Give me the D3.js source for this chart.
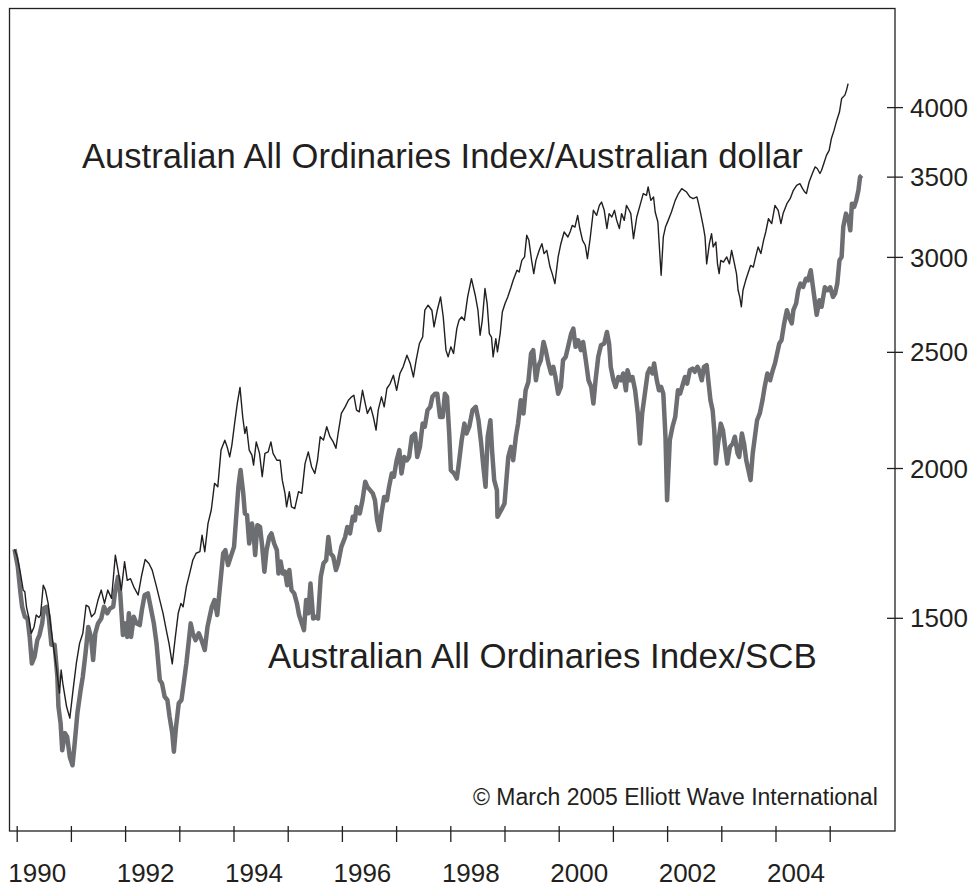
<!DOCTYPE html>
<html lang="en">
<head>
<meta charset="UTF-8">
<script src="https://d3js.org/d3.v7.min.js"></script>
<style>
  body { margin: 0; background: #fff; }
  svg { display: block; font-family: "Liberation Sans", Arial, Helvetica, sans-serif; }
  .axis text { fill: #231f20; font-size: 26px; }
  .axis line { stroke: #231f20; stroke-width: 1.3; }
  .note { fill: #231f20; }
</style>
</head>
<body>
<svg id="chart" width="977" height="888"></svg>
<script>
// All Ordinaries / Australian dollar  [decimal year, value]
const audSeries = [
  [1989.96,1711],[1990.01,1687],[1990.07,1633],[1990.12,1582],[1990.15,1577],[1990.18,1532],[1990.22,1503],[1990.27,1456],[1990.32,1474],[1990.36,1508],
  [1990.41,1501],[1990.44,1508],[1990.49,1597],[1990.53,1582],[1990.58,1542],[1990.63,1474],[1990.67,1428],[1990.73,1366],[1990.76,1331],[1990.79,1298],
  [1990.82,1357],[1990.85,1323],[1990.92,1265],[1990.98,1237],[1991.04,1306],[1991.10,1374],[1991.16,1428],[1991.22,1456],[1991.28,1537],[1991.33,1532],
  [1991.38,1503],[1991.44,1513],[1991.50,1552],[1991.56,1582],[1991.62,1542],[1991.68,1582],[1991.75,1557],[1991.82,1692],[1991.88,1633],[1991.93,1582],
  [1991.99,1671],[1992.04,1612],[1992.10,1617],[1992.16,1592],[1992.24,1567],[1992.30,1623],[1992.37,1678],[1992.44,1665],[1992.50,1644],[1992.58,1592],
  [1992.64,1552],[1992.70,1513],[1992.76,1465],[1992.81,1428],[1992.87,1373],[1992.92,1437],[1992.98,1513],[1993.03,1542],[1993.07,1532],[1993.13,1592],
  [1993.19,1633],[1993.25,1676],[1993.31,1698],[1993.38,1703],[1993.42,1758],[1993.47,1703],[1993.53,1798],[1993.59,1845],[1993.65,1942],[1993.71,1929],
  [1993.77,2070],[1993.84,2110],[1993.89,2077],[1993.93,2043],[1993.97,2090],[1994.02,2178],[1994.07,2264],[1994.12,2335],[1994.17,2206],[1994.21,2137],
  [1994.24,2165],[1994.29,2070],[1994.34,2050],[1994.37,2011],[1994.42,2103],[1994.48,2057],[1994.53,1967],[1994.58,2057],[1994.64,2063],[1994.69,2103],
  [1994.73,2057],[1994.80,2030],[1994.86,2030],[1994.90,1954],[1994.95,1905],[1994.98,1856],[1995.03,1911],[1995.07,1856],[1995.13,1850],[1995.20,1911],
  [1995.26,1905],[1995.32,2017],[1995.38,2063],[1995.44,2005],[1995.50,1979],[1995.55,2030],[1995.60,2124],[1995.66,2110],[1995.72,2165],[1995.78,2124],
  [1995.84,2103],[1995.89,2077],[1995.93,2137],[1995.99,2221],[1996.06,2249],[1996.12,2278],[1996.18,2293],[1996.22,2300],[1996.27,2235],[1996.32,2228],
  [1996.38,2322],[1996.43,2264],[1996.47,2221],[1996.53,2249],[1996.58,2206],[1996.63,2151],[1996.67,2235],[1996.73,2293],[1996.78,2249],[1996.83,2330],
  [1996.89,2352],[1996.95,2390],[1997.01,2322],[1997.07,2398],[1997.13,2429],[1997.20,2484],[1997.26,2445],[1997.32,2382],[1997.37,2460],[1997.43,2540],
  [1997.49,2572],[1997.53,2708],[1997.59,2734],[1997.66,2708],[1997.70,2623],[1997.76,2708],[1997.82,2778],[1997.87,2673],[1997.92,2508],[1997.96,2476],
  [1998.01,2524],[1998.06,2492],[1998.12,2614],[1998.16,2656],[1998.21,2673],[1998.26,2656],[1998.32,2778],[1998.39,2877],[1998.46,2787],[1998.51,2708],
  [1998.55,2581],[1998.59,2656],[1998.64,2823],[1998.68,2743],[1998.72,2589],[1998.76,2572],[1998.79,2476],[1998.84,2564],[1998.87,2500],[1998.92,2589],
  [1998.96,2699],[1999.01,2743],[1999.06,2778],[1999.12,2830],[1999.16,2868],[1999.23,2924],[1999.27,2914],[1999.32,2980],[1999.37,3000],[1999.41,3127],
  [1999.45,3097],[1999.50,2980],[1999.54,2905],[1999.58,2980],[1999.64,3038],[1999.69,3077],[1999.73,3019],[1999.78,3038],[1999.84,2942],[1999.88,2905],
  [1999.93,2850],[1999.99,3000],[2000.04,3077],[2000.10,3147],[2000.17,3117],[2000.21,3147],[2000.25,3187],[2000.30,3177],[2000.35,3249],[2000.39,3168],
  [2000.44,3097],[2000.49,3068],[2000.53,2990],[2000.58,3107],[2000.64,3281],[2000.70,3249],[2000.75,3312],[2000.79,3333],[2000.84,3281],[2000.89,3168],
  [2000.93,3260],[2000.98,3239],[2001.03,3281],[2001.07,3218],[2001.12,3168],[2001.16,3260],[2001.21,3218],[2001.25,3312],[2001.30,3281],[2001.33,3260],
  [2001.38,3107],[2001.44,3239],[2001.50,3312],[2001.56,3388],[2001.62,3377],[2001.65,3431],[2001.70,3344],[2001.75,3366],[2001.78,3270],[2001.83,3208],
  [2001.85,3097],[2001.89,2896],[2001.93,3117],[2001.97,3177],[2002.02,3218],[2002.08,3270],[2002.15,3344],[2002.21,3388],[2002.27,3420],[2002.36,3398],
  [2002.42,3366],[2002.48,3355],[2002.55,3366],[2002.58,3323],[2002.62,3260],[2002.67,3177],[2002.70,3117],[2002.73,2960],[2002.78,3077],[2002.82,3137],
  [2002.85,3058],[2002.90,3087],[2002.93,2960],[2002.96,2905],[2002.99,2980],[2003.04,2970],[2003.10,3000],[2003.15,2960],[2003.19,3038],[2003.23,2980],
  [2003.28,2905],[2003.31,2814],[2003.34,2778],[2003.37,2726],[2003.40,2814],[2003.45,2868],[2003.50,2914],[2003.54,2951],[2003.59,2942],[2003.64,3009],
  [2003.68,3058],[2003.73,3019],[2003.78,3097],[2003.82,3147],[2003.87,3228],[2003.93,3198],[2003.99,3312],[2004.05,3281],[2004.10,3198],[2004.14,3260],
  [2004.21,3323],[2004.27,3355],[2004.33,3409],[2004.39,3442],[2004.45,3453],[2004.50,3420],[2004.54,3398],[2004.57,3388],[2004.62,3464],[2004.68,3521],
  [2004.73,3566],[2004.77,3555],[2004.82,3521],[2004.85,3543],[2004.89,3588],[2004.94,3646],[2004.99,3681],[2005.03,3764],[2005.08,3825],[2005.13,3899],
  [2005.18,3962],[2005.22,4066],[2005.28,4093],[2005.31,4132],[2005.34,4185]
];

// All Ordinaries / SCB  [decimal year, value]
const scbSeries = [
  [1989.96,1711],[1990.02,1655],[1990.07,1572],[1990.10,1532],[1990.15,1503],[1990.20,1498],[1990.24,1446],[1990.28,1374],[1990.33,1392],[1990.38,1437],
  [1990.42,1451],[1990.47,1484],[1990.50,1527],[1990.55,1532],[1990.59,1503],[1990.64,1424],[1990.70,1424],[1990.75,1340],[1990.77,1265],[1990.81,1225],
  [1990.84,1163],[1990.89,1202],[1990.93,1194],[1990.98,1148],[1991.03,1130],[1991.07,1179],[1991.12,1249],[1991.18,1306],[1991.22,1340],[1991.27,1401],
  [1991.32,1474],[1991.37,1446],[1991.41,1383],[1991.45,1456],[1991.50,1484],[1991.56,1498],[1991.61,1532],[1991.67,1513],[1991.72,1527],[1991.78,1532],
  [1991.82,1582],[1991.87,1623],[1991.91,1572],[1991.96,1451],[1992.00,1484],[1992.04,1446],[1992.07,1513],[1992.11,1446],[1992.16,1503],[1992.21,1484],
  [1992.27,1479],[1992.31,1523],[1992.36,1567],[1992.42,1572],[1992.47,1532],[1992.53,1484],[1992.58,1428],[1992.64,1331],[1992.68,1323],[1992.73,1289],
  [1992.78,1281],[1992.82,1241],[1992.87,1202],[1992.90,1160],[1992.94,1217],[1992.99,1273],[1993.04,1281],[1993.09,1331],[1993.13,1374],[1993.17,1428],
  [1993.21,1484],[1993.25,1456],[1993.30,1437],[1993.36,1456],[1993.41,1437],[1993.47,1410],[1993.52,1474],[1993.56,1503],[1993.60,1532],[1993.65,1552],
  [1993.70,1508],[1993.75,1592],[1993.81,1698],[1993.85,1708],[1993.90,1660],[1993.95,1687],[1994.01,1719],[1994.05,1821],[1994.09,1929],[1994.13,1992],
  [1994.18,1905],[1994.21,1833],[1994.25,1827],[1994.29,1730],[1994.34,1798],[1994.37,1764],[1994.40,1692],[1994.44,1792],[1994.49,1786],[1994.53,1719],
  [1994.57,1639],[1994.61,1708],[1994.66,1752],[1994.70,1764],[1994.75,1730],[1994.80,1708],[1994.83,1633],[1994.87,1671],[1994.91,1633],[1994.95,1639],
  [1994.99,1597],[1995.03,1644],[1995.07,1582],[1995.12,1572],[1995.17,1542],[1995.21,1508],[1995.26,1484],[1995.30,1465],[1995.34,1552],[1995.38,1513],
  [1995.42,1602],[1995.47,1498],[1995.52,1503],[1995.56,1498],[1995.61,1623],[1995.66,1665],[1995.71,1676],[1995.75,1752],[1995.79,1698],[1995.84,1687],
  [1995.89,1644],[1995.93,1665],[1995.99,1719],[1996.06,1752],[1996.10,1786],[1996.15,1764],[1996.20,1821],[1996.24,1809],[1996.27,1856],[1996.33,1833],
  [1996.38,1880],[1996.43,1948],[1996.47,1929],[1996.52,1917],[1996.57,1905],[1996.61,1880],[1996.65,1809],[1996.69,1775],[1996.73,1833],[1996.78,1892],
  [1996.83,1880],[1996.87,1929],[1996.92,1979],[1996.96,1967],[1997.01,2030],[1997.06,2070],[1997.10,1979],[1997.15,2043],[1997.20,2030],[1997.24,2043],
  [1997.29,2124],[1997.35,2137],[1997.39,2043],[1997.44,2083],[1997.49,2178],[1997.53,2165],[1997.58,2235],[1997.63,2249],[1997.67,2293],[1997.72,2307],
  [1997.76,2307],[1997.81,2206],[1997.86,2206],[1997.90,2307],[1997.94,2293],[1997.98,2137],[1998.01,1992],[1998.07,1979],[1998.12,1960],[1998.15,2005],
  [1998.21,2110],[1998.26,2178],[1998.30,2137],[1998.35,2165],[1998.41,2235],[1998.47,2249],[1998.52,2192],[1998.57,2096],[1998.61,2005],[1998.65,1929],
  [1998.69,2124],[1998.74,2192],[1998.77,2070],[1998.81,1954],[1998.86,1917],[1998.87,1821],[1998.94,1845],[1999.00,1868],[1999.04,1967],[1999.07,2043],
  [1999.12,2083],[1999.16,2030],[1999.21,2124],[1999.25,2178],[1999.30,2278],[1999.35,2221],[1999.39,2322],[1999.44,2359],[1999.49,2492],[1999.53,2508],
  [1999.58,2367],[1999.62,2429],[1999.67,2460],[1999.72,2548],[1999.76,2508],[1999.81,2445],[1999.86,2398],[1999.90,2429],[1999.94,2382],[1999.99,2307],
  [2000.04,2337],[2000.08,2460],[2000.13,2476],[2000.18,2532],[2000.23,2589],[2000.27,2614],[2000.31,2524],[2000.36,2556],[2000.41,2508],[2000.45,2548],
  [2000.50,2460],[2000.55,2367],[2000.60,2337],[2000.64,2264],[2000.68,2367],[2000.73,2476],[2000.78,2532],[2000.84,2540],[2000.89,2597],[2000.93,2540],
  [2000.96,2429],[2001.01,2367],[2001.05,2337],[2001.10,2382],[2001.15,2367],[2001.19,2398],[2001.24,2322],[2001.27,2413],[2001.32,2367],[2001.36,2382],
  [2001.41,2322],[2001.46,2221],[2001.50,2096],[2001.54,2221],[2001.59,2307],[2001.64,2398],[2001.68,2421],[2001.73,2398],[2001.76,2445],[2001.81,2367],
  [2001.85,2322],[2001.89,2337],[2001.93,2307],[2001.97,2124],[2002.00,1880],[2002.05,2110],[2002.10,2165],[2002.15,2206],[2002.20,2322],[2002.24,2307],
  [2002.33,2382],[2002.37,2352],[2002.42,2413],[2002.47,2421],[2002.51,2406],[2002.56,2429],[2002.59,2413],[2002.64,2367],[2002.68,2429],[2002.73,2437],
  [2002.76,2367],[2002.80,2278],[2002.84,2235],[2002.87,2151],[2002.90,2017],[2002.94,2096],[2002.99,2178],[2003.03,2151],[2003.07,2083],[2003.11,2017],
  [2003.16,2083],[2003.21,2096],[2003.25,2124],[2003.30,2057],[2003.33,2043],[2003.38,2137],[2003.42,2096],[2003.46,2030],[2003.50,1992],[2003.54,1954],
  [2003.58,2057],[2003.62,2124],[2003.66,2192],[2003.71,2221],[2003.76,2278],[2003.80,2337],[2003.85,2398],[2003.90,2367],[2003.95,2413],[2003.99,2445],
  [2004.03,2492],[2004.07,2540],[2004.11,2556],[2004.16,2640],[2004.21,2708],[2004.25,2673],[2004.30,2640],[2004.33,2708],[2004.38,2743],[2004.42,2814],
  [2004.46,2850],[2004.51,2832],[2004.56,2877],[2004.60,2868],[2004.65,2924],[2004.76,2684],[2004.81,2760],[2004.85,2726],[2004.91,2830],[2004.96,2814],
  [2005.01,2830],[2005.06,2778],[2005.10,2796],[2005.14,2850],[2005.18,2980],[2005.22,3000],[2005.25,3177],[2005.30,3260],[2005.35,3218],[2005.38,3157],
  [2005.41,3323],[2005.45,3302],[2005.49,3344],[2005.53,3409],[2005.56,3497],[2005.59,3508]
];

const yearTicks = d3.range(1990, 2006);
const yearLabels = [1990, 1992, 1994, 1996, 1998, 2000, 2002, 2004];
const valueTicks = [1500, 2000, 2500, 3000, 3500, 4000];

const svg = d3.select("#chart");

// plot frame
const frameLeft = 9.5, frameRight = 895, frameTop = 8.5, frameBottom = 831;

const x = d3.scaleLinear().domain([1990, 2005]).range([16.7, 829.7]);
const y = d3.scaleLog().domain([996, 4834]).range([frameBottom, frameTop]);

svg.append("rect")
  .attr("x", frameLeft).attr("y", frameTop)
  .attr("width", frameRight - frameLeft).attr("height", frameBottom - frameTop)
  .attr("fill", "none").attr("stroke", "#231f20").attr("stroke-width", 1.3);

// bottom axis: year ticks, labels set a bit right of each tick
const xAxis = svg.append("g")
  .attr("class", "axis")
  .attr("transform", `translate(0,${frameBottom})`)
  .call(d3.axisBottom(x).tickValues(yearTicks).tickSize(0).tickFormat(""));
xAxis.select(".domain").remove();
xAxis.selectAll(".tick line").attr("y1", -5).attr("y2", 11);

svg.append("g")
  .attr("class", "axis")
  .selectAll("text")
  .data(yearLabels)
  .enter().append("text")
  .attr("x", d => x(d) + 20.5)
  .attr("y", 882)
  .attr("text-anchor", "middle")
  .text(d => d);

// right axis (log)
const yAxis = svg.append("g")
  .attr("class", "axis")
  .attr("transform", `translate(${frameRight},0)`)
  .call(d3.axisRight(y).tickValues(valueTicks).tickSize(0).tickFormat(d3.format("d")));
yAxis.select(".domain").remove();
yAxis.selectAll(".tick line").attr("x1", -8).attr("x2", 8);
yAxis.selectAll(".tick text").attr("x", 15).attr("dy", "0.35em").attr("text-anchor", "start");

const line = d3.line()
  .x(d => x(d[0]))
  .y(d => y(d[1]));

svg.append("path")
  .datum(scbSeries)
  .attr("d", line)
  .attr("fill", "none")
  .attr("stroke", "#6d6e71")
  .attr("stroke-width", 4.5)
  .attr("stroke-linejoin", "round");

svg.append("path")
  .datum(audSeries)
  .attr("d", line)
  .attr("fill", "none")
  .attr("stroke", "#231f20")
  .attr("stroke-width", 1.4)
  .attr("stroke-linejoin", "round");

// series labels
svg.append("text").attr("class", "note")
  .attr("x", 82).attr("y", 168).attr("font-size", 34.6)
  .text("Australian All Ordinaries Index/Australian dollar");

svg.append("text").attr("class", "note")
  .attr("x", 268).attr("y", 668).attr("font-size", 34.9)
  .text("Australian All Ordinaries Index/SCB");

svg.append("text").attr("class", "note")
  .attr("x", 473).attr("y", 805).attr("font-size", 23)
  .text("\u00A9 March 2005 Elliott Wave International");
</script>
</body>
</html>
